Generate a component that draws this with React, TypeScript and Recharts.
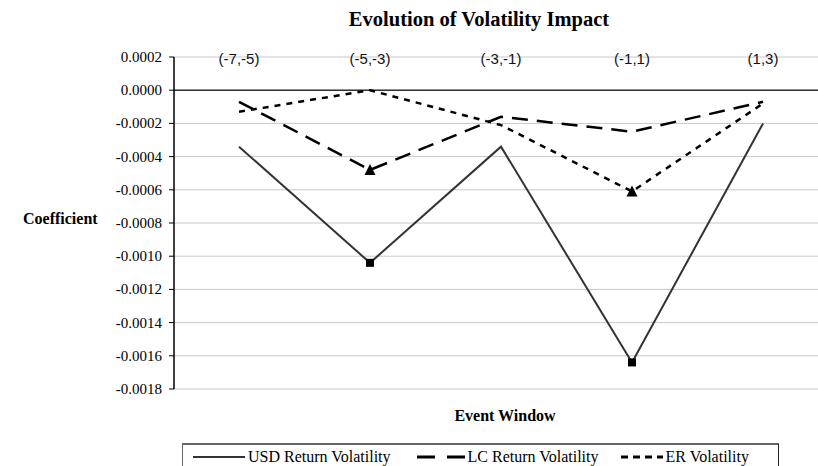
import React from 'react';
import {
  LineChart, Line, XAxis, YAxis, CartesianGrid, ReferenceLine, Legend,
} from 'recharts';

const categories = ['(-7,-5)', '(-5,-3)', '(-3,-1)', '(-1,1)', '(1,3)'];
const usdReturnVol = [-0.00034, -0.00104, -0.00034, -0.00164, -0.0002];
const lcReturnVol = [-0.00007, -0.00048, -0.00016, -0.00025, -0.00007];
const erVol = [-0.00013, 0.0, -0.00021, -0.00061, -0.00008];

// points flagged with a marker in the original
const usdMarked = [false, true, false, true, false];
const lcMarked = [false, true, false, false, false];
const erMarked = [false, false, false, true, false];

const yTicks = [0.0002, 0, -0.0002, -0.0004, -0.0006, -0.0008, -0.001, -0.0012, -0.0014, -0.0016, -0.0018];

const data = categories.map((cat, i) => ({
  cat,
  usd: usdReturnVol[i],
  lc: lcReturnVol[i],
  er: erVol[i],
}));

const SERIF = "'Liberation Serif', 'Times New Roman', serif";
const SANS = "'Liberation Sans', Arial, sans-serif";

function squareDot(flags: boolean[]) {
  return (p: any) => {
    if (!flags[p.index]) return <g key={`s${p.index}`} />;
    return <rect key={`s${p.index}`} x={p.cx - 4} y={p.cy - 4} width={8} height={8} fill="#000" />;
  };
}

function triangleDot(flags: boolean[], id: string) {
  return (p: any) => {
    if (!flags[p.index]) return <g key={`${id}${p.index}`} />;
    const { cx, cy } = p;
    return (
      <path
        key={`${id}${p.index}`}
        d={`M${cx},${cy - 6} L${cx + 5.5},${cy + 5} L${cx - 5.5},${cy + 5} Z`}
        fill="#000"
      />
    );
  };
}

function CategoryTick(props: any) {
  const { x, y, payload } = props;
  return (
    <text x={x} y={y + 7} textAnchor="middle" style={{ fontFamily: SANS, fontSize: 15 }} fill="#111">
      {payload.value}
    </text>
  );
}

function ValueTick(props: any) {
  const { x, y, payload } = props;
  return (
    <text x={x} y={y + 5} textAnchor="end" style={{ fontFamily: SERIF, fontSize: 15 }} fill="#000">
      {Number(payload.value).toFixed(4)}
    </text>
  );
}

function LegendBox() {
  const item = (sample: React.ReactNode, label: string, gap: number) => (
    <div style={{ display: 'flex', alignItems: 'center', marginRight: gap }}>
      {sample}
      <span style={{ marginLeft: 3 }}>{label}</span>
    </div>
  );
  return (
    <div
      style={{
        borderTop: '2px solid #666',
        borderLeft: '1px solid #666',
        borderRight: '1px solid #222',
        height: 26,
        boxSizing: 'border-box',
        display: 'flex',
        alignItems: 'center',
        paddingLeft: 10,
        fontFamily: SERIF,
        fontSize: 16,
        color: '#000',
      }}
    >
      {item(
        <svg width={52} height={6}><line x1={0} y1={3} x2={52} y2={3} stroke="#333" strokeWidth={2} /></svg>,
        'USD Return Volatility', 26,
      )}
      {item(
        <svg width={48} height={6}><line x1={0} y1={3} x2={48} y2={3} stroke="#000" strokeWidth={3} strokeDasharray="18 12" /></svg>,
        'LC Return Volatility', 22,
      )}
      {item(
        <svg width={42} height={6}><line x1={0} y1={3} x2={42} y2={3} stroke="#000" strokeWidth={3} strokeDasharray="7 5" /></svg>,
        'ER Volatility', 0,
      )}
    </div>
  );
}

export default function App() {
  return (
    <div style={{ position: 'absolute', left: 0, top: 0, width: 818, height: 466, overflow: 'hidden', background: '#fff' }}>
      <div
        style={{
          position: 'absolute', left: 279, top: 8, width: 400, textAlign: 'center',
          fontFamily: SERIF, fontWeight: 'bold', fontSize: 20.5, color: '#000',
        }}
      >
        Evolution of Volatility Impact
      </div>
      <div
        style={{
          position: 'absolute', left: 355, top: 407, width: 300, textAlign: 'center',
          fontFamily: SERIF, fontWeight: 'bold', fontSize: 16, color: '#000',
        }}
      >
        Event Window
      </div>
      <LineChart width={840} height={466} data={data} margin={{ top: 56, right: 12, bottom: 77, left: 0 }}>
        <CartesianGrid vertical={false} stroke="#c8c8c8" strokeWidth={1} />
        <XAxis
          dataKey="cat"
          orientation="top"
          height={1}
          axisLine={false}
          tickLine={false}
          tickSize={0}
          tickMargin={0}
          interval={0}
          padding={{ left: 65, right: 65 }}
          tick={CategoryTick}
        />
        <YAxis
          width={174}
          domain={[-0.0018, 0.0002]}
          ticks={yTicks}
          interval={0}
          allowDataOverflow
          tick={ValueTick}
          axisLine={{ stroke: '#000', strokeWidth: 1.5 }}
          tickLine={{ stroke: '#000' }}
          tickSize={5}
          tickMargin={7}
          label={{
            value: 'Coefficient', position: 'insideLeft', offset: 23, dy: -5,
            style: { fontFamily: SERIF, fontWeight: 'bold', fontSize: 16, fill: '#000', textAnchor: 'start' },
          }}
        />
        <ReferenceLine y={0} stroke="#333" strokeWidth={1.5} />
        <Line
          dataKey="usd" name="USD Return Volatility" stroke="#333" strokeWidth={2}
          dot={squareDot(usdMarked)} activeDot={false} isAnimationActive={false}
        />
        <Line
          dataKey="lc" name="LC Return Volatility" stroke="#000" strokeWidth={2.5} strokeDasharray="16 9"
          dot={triangleDot(lcMarked, 'l')} activeDot={false} isAnimationActive={false}
        />
        <Line
          dataKey="er" name="ER Volatility" stroke="#000" strokeWidth={2.5} strokeDasharray="6 6"
          dot={triangleDot(erMarked, 'e')} activeDot={false} isAnimationActive={false}
        />
        <Legend
          layout="horizontal"
          verticalAlign="middle"
          align="center"
          content={() => <LegendBox />}
          wrapperStyle={{ position: 'absolute', left: 182, top: 443, width: 597, height: 26 }}
        />
      </LineChart>
    </div>
  );
}
